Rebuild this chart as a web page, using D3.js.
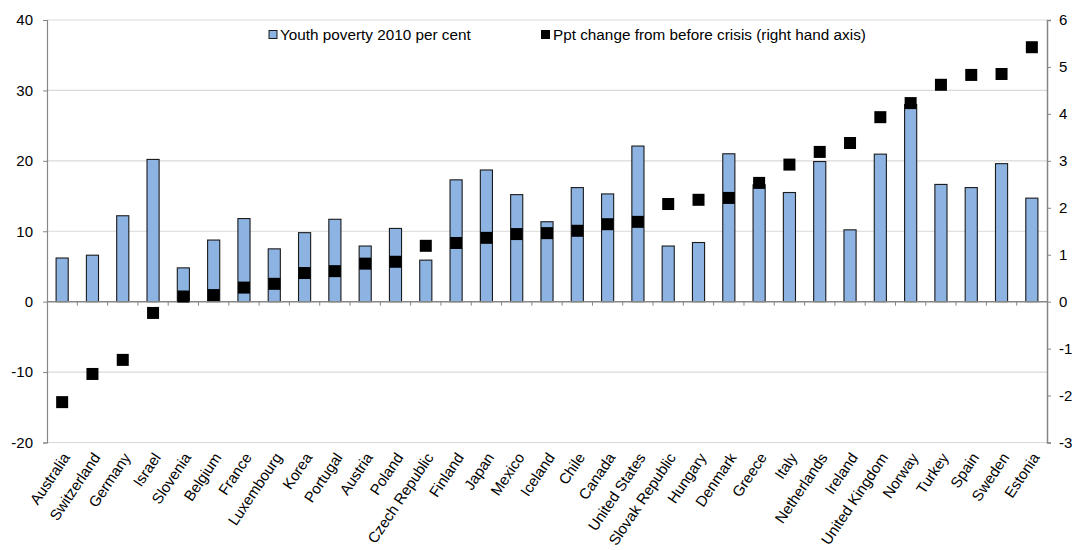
<!DOCTYPE html>
<html lang="en">
<head>
<meta charset="UTF-8">
<title>Youth poverty 2010</title>
<script src="https://cdn.jsdelivr.net/npm/d3@7"></script>
<style>
  body { margin: 0; background: #fff; }
  svg text { font-family: "Liberation Sans", Arial, sans-serif; fill: #000; }
</style>
</head>
<body>
<div id="container"></div>
<script>
const countries = ["Australia", "Switzerland", "Germany", "Israel", "Slovenia", "Belgium", "France",
  "Luxembourg", "Korea", "Portugal", "Austria", "Poland", "Czech Republic", "Finland", "Japan",
  "Mexico", "Iceland", "Chile", "Canada", "United States", "Slovak Republic", "Hungary", "Denmark",
  "Greece", "Italy", "Netherlands", "Ireland", "United Kingdom", "Norway", "Turkey", "Spain",
  "Sweden", "Estonia"];

const poverty2010 = [6.2, 6.6, 12.2, 20.2, 4.8, 8.75, 11.8, 7.5, 9.8, 11.7, 7.9, 10.4, 5.9, 17.3,
  18.7, 15.2, 11.35, 16.2, 15.3, 22.1, 7.9, 8.4, 21.0, 16.6, 15.5, 19.9, 10.2, 20.95, 28.0, 16.65,
  16.2, 19.6, 14.7];

const pptChange = [-2.14, -1.54, -1.24, -0.24, 0.11, 0.14, 0.30, 0.38, 0.61, 0.65, 0.81, 0.85,
  1.19, 1.25, 1.36, 1.44, 1.46, 1.51, 1.65, 1.70, 2.08, 2.17, 2.21, 2.53, 2.92, 3.19, 3.38, 3.93,
  4.23, 4.62, 4.83, 4.85, 5.42];

const leftTicks = [-20, -10, 0, 10, 20, 30, 40];
const rightTicks = [-3, -2, -1, 0, 1, 2, 3, 4, 5, 6];
const legendLabels = ["Youth poverty 2010 per cent", "Ppt change from before crisis (right hand axis)"];

const width = 1076;
const height = 550;
const marginLeft = 47;
const marginRight = 29;
const marginTop = 20;
const marginBottom = 107.5;

const x = d3.scaleBand()
    .domain(countries)
    .range([marginLeft, width - marginRight])
    .paddingInner(0.6)
    .paddingOuter(0.3);

const xEdge = d3.scaleBand()
    .domain(countries)
    .range([marginLeft, width - marginRight]);

const y = d3.scaleLinear()
    .domain([-20, 40])
    .range([height - marginBottom, marginTop]);

const y2 = d3.scaleLinear()
    .domain([-3, 6])
    .range([height - marginBottom, marginTop]);

const svg = d3.create("svg")
    .attr("width", width)
    .attr("height", height);

// gridlines
svg.append("g")
  .selectAll("line")
  .data(leftTicks.filter(d => d !== 0))
  .join("line")
    .attr("x1", marginLeft)
    .attr("x2", width - marginRight)
    .attr("y1", d => y(d))
    .attr("y2", d => y(d))
    .attr("stroke", "#d9d9d9")
    .attr("stroke-width", 1.2);

// plain hyphen for negatives, like the original
const fmt = d => String(d);

// left axis
const leftAxis = svg.append("g")
    .attr("transform", `translate(${marginLeft},0)`)
    .call(d3.axisLeft(y).tickValues(leftTicks).tickFormat(fmt).tickSize(4).tickPadding(10));
leftAxis.select(".domain").attr("stroke", "#868686").attr("stroke-width", 1.2);
leftAxis.selectAll(".tick line").attr("stroke", "#868686");
leftAxis.selectAll("text").attr("font-size", 15).attr("fill", "#000");

// right axis
const rightAxis = svg.append("g")
    .attr("transform", `translate(${width - marginRight},0)`)
    .call(d3.axisRight(y2).tickValues(rightTicks).tickFormat(fmt).tickSize(4).tickPadding(8));
rightAxis.select(".domain").attr("stroke", "#868686").attr("stroke-width", 1.5);
rightAxis.selectAll(".tick line").attr("stroke", "#868686");
rightAxis.selectAll("text").attr("font-size", 15).attr("fill", "#000");

// bars
svg.append("g")
  .selectAll("rect")
  .data(countries)
  .join("rect")
    .attr("x", d => x(d))
    .attr("width", x.bandwidth())
    .attr("y", (d, i) => y(poverty2010[i]))
    .attr("height", (d, i) => y(0) - y(poverty2010[i]))
    .attr("fill", "#8db3e2")
    .attr("stroke", "#1a1a1a")
    .attr("stroke-width", 1.1);

// zero line with category ticks
const zero = svg.append("g");
zero.append("line")
    .attr("x1", marginLeft)
    .attr("x2", width - marginRight)
    .attr("y1", y(0))
    .attr("y2", y(0))
    .attr("stroke", "#868686")
    .attr("stroke-width", 1.5);
zero.selectAll(".ctick")
  .data(countries.slice(1))
  .join("line")
    .attr("class", "ctick")
    .attr("x1", d => xEdge(d))
    .attr("x2", d => xEdge(d))
    .attr("y1", y(0))
    .attr("y2", y(0) + 4)
    .attr("stroke", "#868686");

// markers
const ms = 12;
svg.append("g")
  .selectAll("rect")
  .data(countries)
  .join("rect")
    .attr("x", d => x(d) + x.bandwidth() / 2 - ms / 2)
    .attr("y", (d, i) => y2(pptChange[i]) - ms / 2)
    .attr("width", ms)
    .attr("height", ms)
    .attr("fill", "#000");

// category labels
svg.append("g")
  .selectAll("text")
  .data(countries)
  .join("text")
    .attr("transform", d => `translate(${x(d) + x.bandwidth() / 2 + 4},${height - marginBottom + 12}) rotate(-56)`)
    .attr("text-anchor", "end")
    .attr("dy", "0.35em")
    .attr("font-size", 15)
    .text(d => d);

// legend
const legend = svg.append("g");
legend.append("rect")
    .attr("x", 269).attr("y", 30.5)
    .attr("width", 8).attr("height", 8)
    .attr("fill", "#8db3e2").attr("stroke", "#1a1a1a").attr("stroke-width", 1);
legend.append("text")
    .attr("x", 280).attr("y", 40)
    .attr("font-size", 15.3)
    .text(legendLabels[0]);
legend.append("rect")
    .attr("x", 541).attr("y", 30)
    .attr("width", 9).attr("height", 9)
    .attr("fill", "#000");
legend.append("text")
    .attr("x", 553).attr("y", 40)
    .attr("font-size", 15.3)
    .text(legendLabels[1]);

document.getElementById("container").append(svg.node());
</script>
</body>
</html>
